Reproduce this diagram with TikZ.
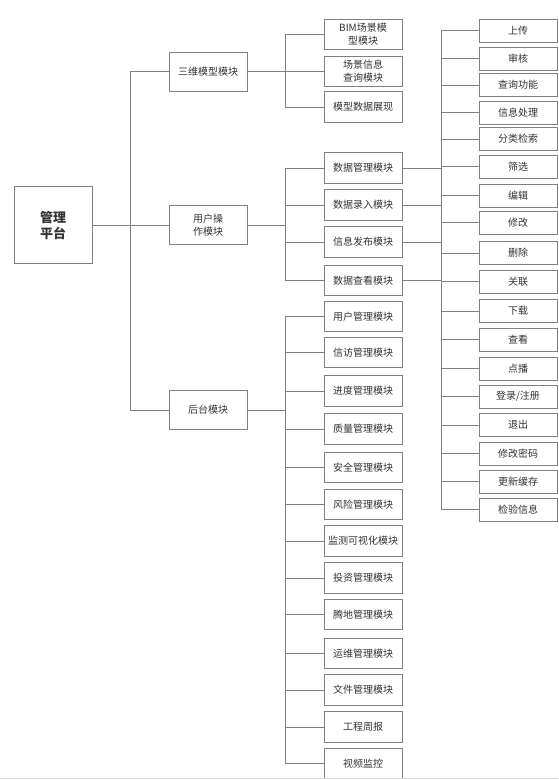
\documentclass[tikz,border=0pt]{standalone}
\usepackage{fontspec}
\setmainfont{Noto Sans CJK SC}
\usepackage{tikz}
\definecolor{edge}{HTML}{808080}
\definecolor{ink}{HTML}{333333}
\definecolor{rule}{HTML}{DADADA}

\begin{document}
\begin{tikzpicture}[
  x=1pt,y=-1pt,
  box/.style={draw=edge,line width=.9pt,fill=white,text=ink,align=center,
    inner sep=1pt,font=\fontsize{10}{13}\selectfont},
  rootbox/.style={box,minimum width=78pt,minimum height=77pt,
    font=\fontsize{13}{16}\selectfont\bfseries},
  midbox/.style={box,minimum width=78pt,minimum height=39pt},
  subbox/.style={box,minimum width=78pt,minimum height=30.5pt},
  leafbox/.style={box,minimum width=78pt,minimum height=23pt},
  link/.style={draw=edge,line width=.9pt}
]
\useasboundingbox (0,0) rectangle (558,780);
% root and first level
\node[rootbox] (root) at (53,225) {管理\\平台};
\node[midbox] (model) at (208,71.5) {三维模型模块};
\node[midbox] (user) at (208,225) {用户操\\作模块};
\node[midbox] (back) at (208,410) {后台模块};
% second level
\node[subbox] (bim) at (363,34.5) {BIM场景模\\型模块};
\node[subbox] (scene) at (363,71.5) {场景信息\\查询模块};
\node[subbox] (show) at (363,107) {模型数据展现};
\node[subbox] (dmanage) at (363,168) {数据管理模块};
\node[subbox] (dinput) at (363,205) {数据录入模块};
\node[subbox] (publish) at (363,242) {信息发布模块};
\node[subbox] (dview) at (363,280.5) {数据查看模块};
\node[subbox] (m1) at (363,316.5) {用户管理模块};
\node[subbox] (m2) at (363,352.5) {信访管理模块};
\node[subbox] (m3) at (363,391) {进度管理模块};
\node[subbox] (m4) at (363,429) {质量管理模块};
\node[subbox] (m5) at (363,467.5) {安全管理模块};
\node[subbox] (m6) at (363,504.5) {风险管理模块};
\node[subbox] (m7) at (363,541) {监测可视化模块};
\node[subbox] (m8) at (363,578) {投资管理模块};
\node[subbox] (m9) at (363,614.5) {腾地管理模块};
\node[subbox] (m10) at (363,653.5) {运维管理模块};
\node[subbox] (m11) at (363,690) {文件管理模块};
\node[subbox] (m12) at (363,727) {工程周报};
\node[subbox] (m13) at (363,763.5) {视频监控};
% third level
\node[leafbox] (f1) at (518,30.5) {上传};
\node[leafbox] (f2) at (518,58.5) {审核};
\node[leafbox] (f3) at (518,85) {查询功能};
\node[leafbox] (f4) at (518,112.5) {信息处理};
\node[leafbox] (f5) at (518,139) {分类检索};
\node[leafbox] (f6) at (518,166.5) {筛选};
\node[leafbox] (f7) at (518,195.5) {编辑};
\node[leafbox] (f8) at (518,222.5) {修改};
\node[leafbox] (f9) at (518,253) {删除};
\node[leafbox] (f10) at (518,281.5) {关联};
\node[leafbox] (f11) at (518,311) {下载};
\node[leafbox] (f12) at (518,339.5) {查看};
\node[leafbox] (f13) at (518,368.5) {点播};
\node[leafbox] (f14) at (518,396.5) {登录/注册};
\node[leafbox] (f15) at (518,425) {退出};
\node[leafbox] (f16) at (518,453.5) {修改密码};
\node[leafbox] (f17) at (518,481.5) {更新缓存};
\node[leafbox] (f18) at (518,509.5) {检验信息};
% junctions
\coordinate (jroot) at (130,225);
\coordinate (jmodel) at (285,71.5);
\coordinate (juser) at (285,225);
\coordinate (jback) at (285,410);
\coordinate (jfunc) at (441,225);
% connectors
\draw[link] (root.east) -- (user.west);
\draw[link] (jroot) |- (model.west); \draw[link] (jroot) |- (back.west);
\draw[link] (model.east) -- (jmodel);
\draw[link] (jmodel) |- (bim.west); \draw[link] (jmodel) |- (scene.west);
\draw[link] (jmodel) |- (show.west);
\draw[link] (user.east) -- (juser);
\draw[link] (juser) |- (dmanage.west); \draw[link] (juser) |- (dinput.west);
\draw[link] (juser) |- (publish.west); \draw[link] (juser) |- (dview.west);
\draw[link] (back.east) -- (jback);
\draw[link] (jback) |- (m1.west); \draw[link] (jback) |- (m2.west);
\draw[link] (jback) |- (m3.west); \draw[link] (jback) |- (m4.west);
\draw[link] (jback) |- (m5.west); \draw[link] (jback) |- (m6.west);
\draw[link] (jback) |- (m7.west); \draw[link] (jback) |- (m8.west);
\draw[link] (jback) |- (m9.west); \draw[link] (jback) |- (m10.west);
\draw[link] (jback) |- (m11.west); \draw[link] (jback) |- (m12.west);
\draw[link] (jback) |- (m13.west);
\draw[link] (dmanage.east) -- (dmanage.east -| jfunc);
\draw[link] (dinput.east) -- (dinput.east -| jfunc);
\draw[link] (publish.east) -- (publish.east -| jfunc);
\draw[link] (dview.east) -- (dview.east -| jfunc);
\draw[link] (jfunc) |- (f1.west); \draw[link] (jfunc) |- (f2.west);
\draw[link] (jfunc) |- (f3.west); \draw[link] (jfunc) |- (f4.west);
\draw[link] (jfunc) |- (f5.west); \draw[link] (jfunc) |- (f6.west);
\draw[link] (jfunc) |- (f7.west); \draw[link] (jfunc) |- (f8.west);
\draw[link] (jfunc) |- (f9.west); \draw[link] (jfunc) |- (f10.west);
\draw[link] (jfunc) |- (f11.west); \draw[link] (jfunc) |- (f12.west);
\draw[link] (jfunc) |- (f13.west); \draw[link] (jfunc) |- (f14.west);
\draw[link] (jfunc) |- (f15.west); \draw[link] (jfunc) |- (f16.west);
\draw[link] (jfunc) |- (f17.west); \draw[link] (jfunc) |- (f18.west);
% page edge
\draw[draw=rule,line width=1pt] (0,778.5) -- (558,778.5);
\end{tikzpicture}
\end{document}
